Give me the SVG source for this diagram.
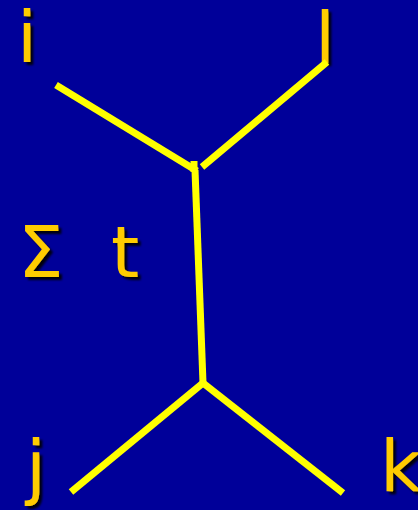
<svg xmlns="http://www.w3.org/2000/svg" width="418" height="510" viewBox="0 0 418 510">
<defs>
<style>
.ln{stroke:#FFFF00;stroke-width:7;fill:none;stroke-linecap:butt}
.lb{font-family:"DejaVu Sans","Liberation Sans",sans-serif;font-size:72px;fill:#FFCC00;filter:url(#sh)}
</style>
<filter id="sh" x="-20%" y="-20%" width="150%" height="150%">
<feDropShadow dx="3" dy="3" stdDeviation="1" flood-color="#000000" flood-opacity="0.9"/>
</filter>
</defs>
<rect width="418" height="510" fill="#000099"/>
<g id="labels">
<text class="lb" x="17" y="62">i</text>
<text class="lb" x="315" y="63">l</text>
<text class="lb" x="18" y="277">Σ</text>
<text class="lb" x="111" y="277">t</text>
<text class="lb" x="26" y="491">j</text>
<text class="lb" x="380" y="491">k</text>
</g>
<g id="connectors">
<line class="ln" x1="56" y1="85" x2="197" y2="171"/>
<line class="ln" x1="202" y1="167" x2="327" y2="62"/>
<line class="ln" x1="194" y1="161" x2="194" y2="172"/>
<line class="ln" x1="195" y1="170" x2="203" y2="383"/>
<line class="ln" x1="203" y1="383" x2="71" y2="492"/>
<line class="ln" x1="203" y1="383" x2="343" y2="493"/>
</g>
</svg>
